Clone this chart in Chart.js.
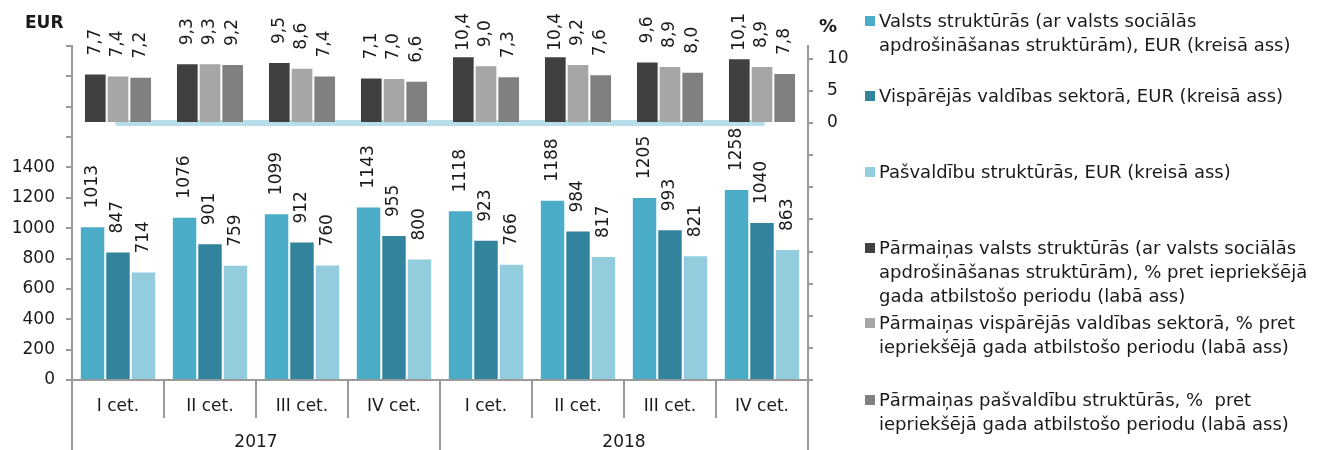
<!DOCTYPE html>
<html>
<head>
<meta charset="utf-8">
<script src="https://cdn.jsdelivr.net/npm/chart.js@4.4.1/dist/chart.umd.min.js"></script>
<style>
body{margin:0;background:#fff;font-family:"DejaVu Sans",Verdana,sans-serif;color:#1a1a1a}
#wrap{position:relative;width:1331px;height:450px}
#chart{position:absolute;left:0;top:0}
.unit{position:absolute;font-weight:bold;font-size:17px}
.leg{position:absolute;left:879px;font-size:18px;line-height:24px;white-space:nowrap}
.leg i{position:absolute;left:-14px;top:7px;width:10px;height:10px}
</style>
</head>
<body>
<div id="wrap">
  <canvas id="chart" width="1331" height="450"></canvas>
  <span class="unit" style="left:25px;top:12px">EUR</span>
  <span class="unit" style="left:819px;top:15px;font-size:18px">%</span>
  <div id="legend"></div>
</div>
<script>
// ceturkšņi un gadi
const quarters = ['I cet.', 'II cet.', 'III cet.', 'IV cet.', 'I cet.', 'II cet.', 'III cet.', 'IV cet.'];
const years = ['2017', '2018'];

// vidējā alga, EUR (kreisā ass)
const eurState = [1013, 1076, 1099, 1143, 1118, 1188, 1205, 1258];
const eurGeneral = [847, 901, 912, 955, 923, 984, 993, 1040];
const eurLocal = [714, 759, 760, 800, 766, 817, 821, 863];

// pārmaiņas, % (labā ass)
const pctState = [7.7, 9.3, 9.5, 7.1, 10.4, 10.4, 9.6, 10.1];
const pctGeneral = [7.4, 9.3, 8.6, 7.0, 9.0, 9.2, 8.9, 8.9];
const pctLocal = [7.2, 9.2, 7.4, 6.6, 7.3, 7.6, 8.0, 7.8];

// sadalītājlīnija pie labās ass nulles
const baseLine = [0, 0, 0, 0, 0, 0, 0, 0];

const legendItems = [
    {color: '#4aacc6', top: 9, text: 'Valsts struktūrās (ar valsts sociālās<br>apdrošināšanas struktūrām), EUR (kreisā ass)'},
    {color: '#31849b', top: 84, text: 'Vispārējās valdības sektorā, EUR (kreisā ass)'},
    {color: '#93cddd', top: 160, text: 'Pašvaldību struktūrās, EUR (kreisā ass)'},
    {color: '#404040', top: 236, text: 'Pārmaiņas valsts struktūrās (ar valsts sociālās<br>apdrošināšanas struktūrām), % pret iepriekšējā<br>gada atbilstošo periodu (labā ass)'},
    {color: '#a6a6a6', top: 311, text: 'Pārmaiņas vispārējās valdības sektorā, % pret<br>iepriekšējā gada atbilstošo periodu (labā ass)'},
    {color: '#808080', top: 388, text: 'Pārmaiņas pašvaldību struktūrās, %&nbsp; pret<br>iepriekšējā gada atbilstošo periodu (labā ass)'},
];
document.getElementById('legend').innerHTML = legendItems.map(l =>
    '<div class="leg" style="top:' + l.top + 'px"><i style="background:' + l.color + '"></i>' + l.text + '</div>'
).join('');

Chart.defaults.font.family = '"DejaVu Sans", Verdana, sans-serif';
Chart.defaults.font.size = 17;
Chart.defaults.color = '#1a1a1a';

const axisGray = '#9a9a9a';

// vērtību uzraksti virs stabiņiem, pagriezti
const valueLabels = {
    id: 'valueLabels',
    afterDatasetsDraw(chart) {
        const ctx = chart.ctx;
        ctx.save();
        ctx.font = '17px "DejaVu Sans", Verdana, sans-serif';
        ctx.fillStyle = '#1a1a1a';
        ctx.textAlign = 'left';
        ctx.textBaseline = 'middle';
        chart.data.datasets.forEach((ds, i) => {
            if (ds.type === 'line') return;
            const pct = ds.yAxisID === 'y2';
            chart.getDatasetMeta(i).data.forEach((bar, j) => {
                const v = ds.data[j];
                const txt = pct ? v.toFixed(1).replace('.', ',') : String(v);
                const w = ctx.measureText(txt).width;
                let start = bar.y - 18;
                if (start - w < 13) start = 13 + w;
                ctx.save();
                ctx.translate(bar.x, start);
                ctx.rotate(-Math.PI / 2);
                ctx.fillText(txt, 0, 0);
                ctx.restore();
            });
        });
        ctx.restore();
    }
};

// EUR un % stabiņi dala tās pašas vietas kategorijā (stack a/b/c), bet ir uz dažādām y asīm
const eurBar = {yAxisID: 'y', categoryPercentage: 0.83, barPercentage: 1, borderWidth: 1, borderColor: 'rgba(255,255,255,0.3)'};
const pctBar = {yAxisID: 'y2', categoryPercentage: 0.74, barPercentage: 1, borderWidth: 1, borderColor: 'rgba(255,255,255,0.25)'};

new Chart(document.getElementById('chart'), {
    type: 'bar',
    data: {
        labels: quarters,
        datasets: [
            {type: 'line', data: baseLine, xAxisID: 'x', yAxisID: 'y2', borderColor: '#b7dde8', borderWidth: 6,
             borderCapStyle: 'round', pointRadius: 0, order: 10},
            Object.assign({label: 'Valsts struktūrās', data: eurState, backgroundColor: '#4aacc6', stack: 'a'}, eurBar),
            Object.assign({label: 'Vispārējās valdības sektorā', data: eurGeneral, backgroundColor: '#31849b', stack: 'b'}, eurBar),
            Object.assign({label: 'Pašvaldību struktūrās', data: eurLocal, backgroundColor: '#93cddd', stack: 'c'}, eurBar),
            Object.assign({label: 'Pārmaiņas valsts', data: pctState, backgroundColor: '#404040', stack: 'a'}, pctBar),
            Object.assign({label: 'Pārmaiņas vispārējās', data: pctGeneral, backgroundColor: '#a6a6a6', stack: 'b'}, pctBar),
            Object.assign({label: 'Pārmaiņas pašvaldību', data: pctLocal, backgroundColor: '#808080', stack: 'c'}, pctBar),
        ]
    },
    options: {
        responsive: false,
        animation: false,
        layout: {padding: {top: 46, right: 478, left: 0, bottom: 0}},
        plugins: {legend: {display: false}, tooltip: {enabled: false}},
        scales: {
            x: {
                position: 'bottom', offset: true,
                grid: {drawOnChartArea: false, offset: true, tickLength: 38, color: axisGray, lineWidth: 2},
                border: {color: axisGray, width: 2},
                ticks: {padding: -22, maxRotation: 0, autoSkip: false},
                afterFit(s) { s.height = 38; }
            },
            xYear: {
                type: 'category', labels: years, position: 'bottom', offset: true,
                grid: {drawOnChartArea: false, offset: true, tickLength: 40, color: axisGray, lineWidth: 2},
                border: {display: false},
                ticks: {padding: -26, maxRotation: 0},
                afterFit(s) { s.height = 32; }
            },
            y: {
                position: 'left', min: 0, max: 2200, stacked: false,
                ticks: {stepSize: 200, padding: 11, callback: v => v <= 1400 ? v : ''},
                grid: {drawOnChartArea: false, tickLength: 6, color: axisGray, lineWidth: 2},
                border: {color: axisGray, width: 2},
                afterFit(s) { s.width = 72; }
            },
            y2: {
                position: 'right', min: -40, max: 12, stacked: false,
                ticks: {stepSize: 5, padding: 14, includeBounds: false, callback: v => v >= 0 ? v : ''},
                grid: {drawOnChartArea: false, tickLength: 5, color: axisGray, lineWidth: 2},
                border: {color: axisGray, width: 2},
                afterFit(s) { s.width = 45; }
            }
        }
    },
    plugins: [valueLabels]
});
</script>
</body>
</html>
